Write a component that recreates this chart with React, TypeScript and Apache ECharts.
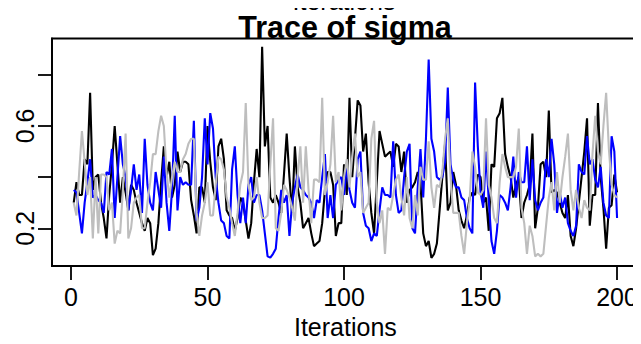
import React, { useEffect, useRef } from "react";
import * as echarts from "echarts";

const chainBlack = [
  0.30, 0.38, 0.33, 0.33, 0.47, 0.45, 0.73, 0.35, 0.40, 0.41,
  0.30, 0.24, 0.16, 0.33, 0.45, 0.60, 0.45, 0.30, 0.40, 0.34,
  0.27, 0.37, 0.35, 0.30, 0.26, 0.22, 0.19, 0.24, 0.22, 0.095,
  0.12, 0.22, 0.38, 0.52, 0.40, 0.46, 0.32, 0.37, 0.50, 0.42,
  0.46, 0.46, 0.45, 0.31, 0.25, 0.18, 0.36, 0.36, 0.30, 0.60,
  0.46, 0.36, 0.31, 0.52, 0.55, 0.47, 0.27, 0.25, 0.24, 0.19,
  0.24, 0.32, 0.30, 0.23, 0.16, 0.22, 0.38, 0.51, 0.40, 0.91,
  0.52, 0.60, 0.32, 0.30, 0.33, 0.30, 0.26, 0.41, 0.57, 0.40,
  0.26, 0.52, 0.36, 0.30, 0.20, 0.22, 0.24, 0.18, 0.13, 0.14,
  0.15, 0.22, 0.35, 0.42, 0.42, 0.37, 0.17, 0.22, 0.22, 0.45,
  0.33, 0.71, 0.40, 0.55, 0.70, 0.68, 0.50, 0.57, 0.38, 0.26,
  0.18, 0.38, 0.58, 0.53, 0.48, 0.49, 0.50, 0.44, 0.53, 0.52,
  0.42, 0.50, 0.30, 0.35, 0.36, 0.38, 0.42, 0.38, 0.18, 0.13,
  0.15, 0.084, 0.10, 0.14, 0.27, 0.40, 0.53, 0.27, 0.30, 0.42,
  0.37, 0.27, 0.23, 0.20, 0.25, 0.32, 0.34, 0.33, 0.41, 0.40,
  0.30, 0.32, 0.19, 0.45, 0.44, 0.63, 0.65, 0.71, 0.49, 0.44,
  0.40, 0.32, 0.37, 0.40, 0.24, 0.30, 0.33, 0.37, 0.57, 0.20,
  0.28, 0.45, 0.46, 0.40, 0.66, 0.34, 0.35, 0.34, 0.30, 0.26,
  0.24, 0.33, 0.17, 0.13, 0.20, 0.30, 0.40, 0.50, 0.63, 0.21,
  0.33, 0.33, 0.69, 0.40, 0.28, 0.12, 0.28, 0.29, 0.41, 0.34,
];

const chainBlue = [
  0.35, 0.34, 0.26, 0.18, 0.30, 0.38, 0.47, 0.32, 0.33, 0.31,
  0.30, 0.26, 0.42, 0.41, 0.51, 0.24, 0.40, 0.56, 0.45, 0.40,
  0.27, 0.35, 0.45, 0.35, 0.41, 0.26, 0.55, 0.37, 0.30, 0.27,
  0.42, 0.35, 0.28, 0.48, 0.30, 0.19, 0.35, 0.64, 0.27, 0.40,
  0.37, 0.38, 0.37, 0.37, 0.62, 0.23, 0.28, 0.40, 0.63, 0.45,
  0.65, 0.59, 0.40, 0.30, 0.23, 0.22, 0.17, 0.16, 0.43, 0.52,
  0.33, 0.22, 0.32, 0.22, 0.37, 0.40, 0.30, 0.33, 0.33, 0.27,
  0.18, 0.09, 0.085, 0.10, 0.12, 0.24, 0.35, 0.30, 0.33, 0.17,
  0.30, 0.36, 0.41, 0.36, 0.35, 0.33, 0.32, 0.30, 0.24, 0.31,
  0.30, 0.40, 0.49, 0.24, 0.33, 0.24, 0.37, 0.39, 0.40, 0.33,
  0.44, 0.35, 0.30, 0.28, 0.47, 0.50, 0.26, 0.21, 0.20, 0.15,
  0.18, 0.17, 0.27, 0.36, 0.33, 0.33, 0.32, 0.54, 0.33, 0.26,
  0.27, 0.40, 0.50, 0.53, 0.20, 0.18, 0.36, 0.51, 0.32, 0.55,
  0.86, 0.55, 0.50, 0.40, 0.39, 0.40, 0.46, 0.75, 0.45, 0.39,
  0.36, 0.36, 0.32, 0.31, 0.24, 0.20, 0.18, 0.77, 0.52, 0.34,
  0.28, 0.50, 0.31, 0.15, 0.10, 0.19, 0.33, 0.32, 0.30, 0.27,
  0.36, 0.48, 0.32, 0.42, 0.38, 0.38, 0.52, 0.31, 0.47, 0.31,
  0.27, 0.30, 0.32, 0.47, 0.40, 0.55, 0.45, 0.26, 0.34, 0.28,
  0.32, 0.22, 0.19, 0.17, 0.21, 0.45, 0.42, 0.41, 0.56, 0.45,
  0.47, 0.39, 0.36, 0.44, 0.30, 0.25, 0.24, 0.56, 0.50, 0.24,
];

const chainGray = [
  0.30, 0.25, 0.42, 0.58, 0.46, 0.33, 0.40, 0.16, 0.40, 0.18,
  0.41, 0.41, 0.40, 0.27, 0.30, 0.14, 0.19, 0.18, 0.35, 0.57,
  0.16, 0.20, 0.30, 0.32, 0.33, 0.20, 0.20, 0.30, 0.38, 0.49,
  0.49, 0.58, 0.64, 0.60, 0.42, 0.32, 0.40, 0.46, 0.42, 0.42,
  0.47, 0.49, 0.53, 0.55, 0.55, 0.26, 0.17, 0.25, 0.30, 0.38,
  0.25, 0.25, 0.37, 0.48, 0.47, 0.43, 0.32, 0.28, 0.22, 0.17,
  0.26, 0.37, 0.42, 0.69, 0.37, 0.31, 0.32, 0.40, 0.30, 0.24,
  0.24, 0.25, 0.45, 0.63, 0.20, 0.19, 0.26, 0.37, 0.35, 0.32,
  0.28, 0.23, 0.40, 0.52, 0.30, 0.52, 0.35, 0.22, 0.39, 0.39,
  0.38, 0.71, 0.33, 0.38, 0.45, 0.64, 0.38, 0.42, 0.27, 0.40,
  0.47, 0.36, 0.48, 0.57, 0.40, 0.42, 0.26, 0.28, 0.30, 0.55,
  0.62, 0.30, 0.22, 0.27, 0.10, 0.28, 0.27, 0.33, 0.39, 0.41,
  0.32, 0.25, 0.40, 0.24, 0.20, 0.33, 0.25, 0.44, 0.39, 0.39,
  0.54, 0.36, 0.28, 0.37, 0.36, 0.42, 0.55, 0.63, 0.40, 0.26,
  0.26, 0.26, 0.17, 0.10, 0.22, 0.31, 0.50, 0.44, 0.34, 0.33,
  0.35, 0.63, 0.37, 0.32, 0.24, 0.22, 0.38, 0.49, 0.44, 0.40,
  0.40, 0.40, 0.44, 0.59, 0.28, 0.22, 0.10, 0.21, 0.17, 0.09,
  0.10, 0.09, 0.10, 0.21, 0.32, 0.38, 0.27, 0.42, 0.30, 0.40,
  0.48, 0.57, 0.35, 0.27, 0.35, 0.28, 0.24, 0.31, 0.28, 0.27,
  0.49, 0.64, 0.50, 0.45, 0.60, 0.73, 0.51, 0.37, 0.33, 0.32,
];

const xTicks = [0, 50, 100, 150, 200];
const yTicks = [0.2, 0.4, 0.6, 0.8];
const yLabels = [0.2, 0.6];

const FONT = "'Liberation Sans', Arial, Helvetica, sans-serif";

const toPairs = (arr: number[]) => arr.map((v, i) => [i + 1, v]);

export default function App() {
  const ref = useRef<HTMLDivElement>(null);
  useEffect(() => {
    if (!ref.current) return;
    const chart = echarts.init(ref.current, null, { renderer: "svg" });
    const lineSeries = (name: string, data: number[], color: string) => ({
      name,
      type: "line",
      data: toPairs(data),
      showSymbol: false,
      symbol: "none",
      lineStyle: { color, width: 2.1 },
      silent: true,
    });
    chart.setOption({
      animation: false,
      backgroundColor: "#ffffff",
      grid: {
        left: 52,
        right: 2.2,
        top: 38.5,
        bottom: 74,
        show: true,
        borderColor: "#000",
        borderWidth: 1.8,
        backgroundColor: "transparent",
      },
      xAxis: {
        type: "value",
        min: -6.96,
        max: 207.96,
        axisLine: { show: true, onZero: false, lineStyle: { color: "#000", width: 1.8 } },
        axisTick: {
          show: true,
          customValues: xTicks,
          length: 14,
          lineStyle: { color: "#000", width: 1.8 },
        },
        axisLabel: {
          customValues: xTicks,
          margin: 18,
          color: "#000",
          fontSize: 25,
          fontFamily: FONT,
        },
        splitLine: { show: false },
        name: "Iterations",
        nameLocation: "middle",
        nameGap: 45,
        nameTextStyle: { color: "#000", fontSize: 25, fontFamily: FONT },
      },
      yAxis: {
        type: "value",
        min: 0.052,
        max: 0.942,
        axisLine: { show: true, onZero: false, lineStyle: { color: "#000", width: 1.8 } },
        axisTick: {
          show: true,
          customValues: yTicks,
          length: 14,
          lineStyle: { color: "#000", width: 1.8 },
        },
        axisLabel: {
          customValues: yLabels,
          rotate: 90,
          margin: 15,
          color: "#000",
          fontSize: 25,
          fontFamily: FONT,
          formatter: (v: number) => v.toFixed(1),
        },
        splitLine: { show: false },
      },
      graphic: [
        {
          type: "text",
          x: 344,
          y: 0.5,
          style: {
            text: "Iterations",
            fontSize: 25,
            fontFamily: FONT,
            fill: "#000",
            align: "center",
            verticalAlign: "middle",
          },
        },
        {
          type: "text",
          x: 345,
          y: 27,
          style: {
            text: "Trace of sigma",
            fontSize: 30.5,
            fontWeight: "bold",
            fontFamily: FONT,
            fill: "#000",
            align: "center",
            verticalAlign: "middle",
          },
        },
      ],
      series: [
        lineSeries("chain1", chainBlack, "#000000"),
        lineSeries("chain2", chainBlue, "#0000FF"),
        lineSeries("chain3", chainGray, "#BEBEBE"),
      ],
    });
    return () => chart.dispose();
  }, []);
  return <div ref={ref} style={{ width: 641, height: 344, margin: -8 }} />;
}
